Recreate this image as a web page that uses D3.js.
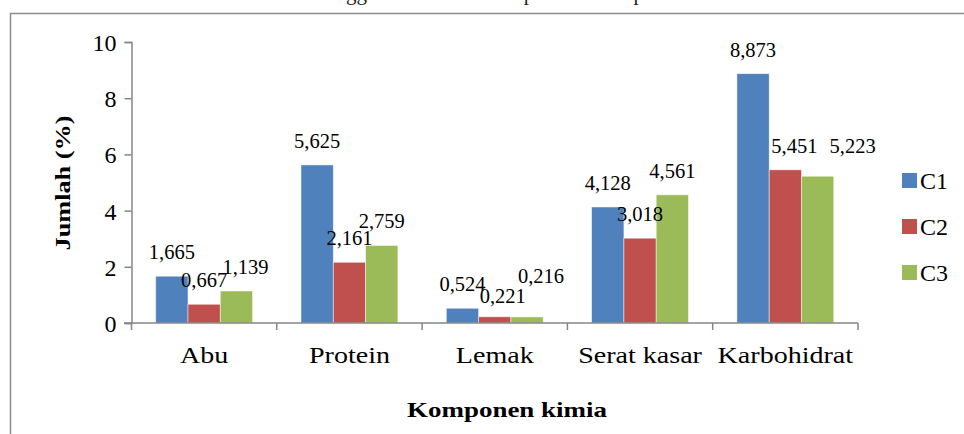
<!DOCTYPE html>
<html>
<head>
<meta charset="utf-8">
<script src="https://cdn.jsdelivr.net/npm/d3@7"></script>
<style>
html,body{margin:0;padding:0;background:#fff;}
svg{display:block;}
svg text{font-family:"Liberation Serif","Times New Roman",serif;}
</style>
</head>
<body>
<svg id="chart" width="964" height="434"></svg>
<script>
const categories = ["Abu", "Protein", "Lemak", "Serat kasar", "Karbohidrat"];
const seriesNames = ["C1", "C2", "C3"];
const C1 = [1.665, 5.625, 0.524, 4.128, 8.873];
const C2 = [0.667, 2.161, 0.221, 3.018, 5.451];
const C3 = [1.139, 2.759, 0.216, 4.561, 5.223];
const yTicks = [0, 2, 4, 6, 8, 10];
const colors = ["#4F81BD", "#C0504D", "#9BBB59"];
const yTitle = "Jumlah (%)";
const xTitle = "Komponen kimia";
// manual label nudges [dx, dy] per category, per series (as in the reference)
const labelNudgeC1 = [[0,0],[0,0],[0,0],[0,0],[0,0]];
const labelNudgeC2 = [[0,0],[0,0],[8,3],[0,0],[9,0]];
const labelNudgeC3 = [[9,0],[0,0],[14,-17],[0,0],[35,-6]];

const series = [C1, C2, C3];
const nudges = [labelNudgeC1, labelNudgeC2, labelNudgeC3];
const FONT = "Liberation Serif";
const svg = d3.select("#chart");

// caption (cut off at top)
svg.append("text").attr("x", 150).attr("y", 0)
  .attr("font-family", FONT).attr("font-size", 21).attr("fill", "#222")
  .text("Gambar 4.1 Nilai tertinggi hasil analisa komponen kimia penelitian awal");

// frame
svg.append("path").attr("d", "M10.5,440 V13.5 H970")
  .attr("fill", "none").attr("stroke", "#8c8c8c").attr("stroke-width", 1.5);

const x0 = d3.scaleBand().domain(categories).range([131.5, 858]).padding(0);
const x1 = d3.scaleBand().domain(seriesNames)
  .range([x0.bandwidth() / 6, x0.bandwidth() * 5 / 6]).padding(0);
const y = d3.scaleLinear().domain([0, 10]).range([323, 42]);

// bars
const g = svg.append("g");
categories.forEach((c, i) => {
  series.forEach((s, j) => {
    const v = s[i];
    g.append("rect")
      .attr("x", x0(c) + x1(seriesNames[j]))
      .attr("y", y(v))
      .attr("width", x1.bandwidth())
      .attr("height", y(0) - y(v))
      .attr("fill", colors[j])
      .attr("stroke", "rgba(255,255,255,0.6)").attr("stroke-width", 0.8);
  });
});

// data labels
categories.forEach((c, i) => {
  series.forEach((s, j) => {
    const v = s[i];
    const [dx, dy] = nudges[j][i];
    g.append("text")
      .attr("x", x0(c) + x1(seriesNames[j]) + x1.bandwidth() / 2 + dx)
      .attr("y", y(v) - 17 + dy)
      .attr("text-anchor", "middle")
      .attr("font-family", FONT)
      .attr("font-size", 20.5).attr("fill", "#000")
      .text(d3.format(".3f")(v).replace(".", ","));
  });
});

// y axis
const yAxis = svg.append("g").attr("transform", "translate(131.5,0)")
  .call(d3.axisLeft(y).tickValues(yTicks).tickSize(7).tickPadding(8).tickFormat(d3.format("d")));
yAxis.select(".domain").attr("stroke", "#868686").attr("stroke-width", 1.5);
yAxis.selectAll(".tick line").attr("stroke", "#868686").attr("stroke-width", 1.5);
yAxis.selectAll(".tick text").attr("font-size", 24).attr("fill", "#000")
  .attr("font-family", FONT).attr("dy", "0.35em");

// x axis
const xAxis = svg.append("g").attr("transform", "translate(0,323)")
  .call(d3.axisBottom(x0).tickSize(0).tickPadding(24));
xAxis.select(".domain").remove();
svg.append("line").attr("x1", 124).attr("x2", 858).attr("y1", 323).attr("y2", 323)
  .attr("stroke", "#868686").attr("stroke-width", 1.5);
const bounds = categories.map(c => x0(c)).concat([x0.range()[1]]);
svg.selectAll(".xt").data(bounds).enter().append("line")
  .attr("x1", d => d).attr("x2", d => d).attr("y1", 323).attr("y2", 330)
  .attr("stroke", "#868686").attr("stroke-width", 1.5);
xAxis.selectAll(".tick text").attr("font-size", 23).attr("fill", "#000")
  .attr("font-family", FONT).attr("dy", "0.71em")
  .attr("transform", "scale(1.22,1)");

// axis titles
svg.append("text").attr("transform", "translate(70,183) rotate(-90)")
  .attr("text-anchor", "middle").attr("font-family", FONT)
  .attr("font-size", 22).attr("font-weight", "bold")
  .attr("textLength", 135).attr("lengthAdjust", "spacingAndGlyphs")
  .text(yTitle);
svg.append("text").attr("x", 407).attr("y", 417)
  .attr("font-family", FONT)
  .attr("font-size", 21).attr("font-weight", "bold")
  .attr("textLength", 200).attr("lengthAdjust", "spacingAndGlyphs")
  .text(xTitle);

// legend
seriesNames.forEach((n, j) => {
  const ly = 173 + j * 46;
  svg.append("rect").attr("x", 902).attr("y", ly).attr("width", 15).attr("height", 15)
    .attr("fill", colors[j]);
  svg.append("text").attr("x", 920).attr("y", ly + 16)
    .attr("font-family", FONT)
    .attr("font-size", 24).attr("fill", "#000").text(n);
});
</script>
</body>
</html>
